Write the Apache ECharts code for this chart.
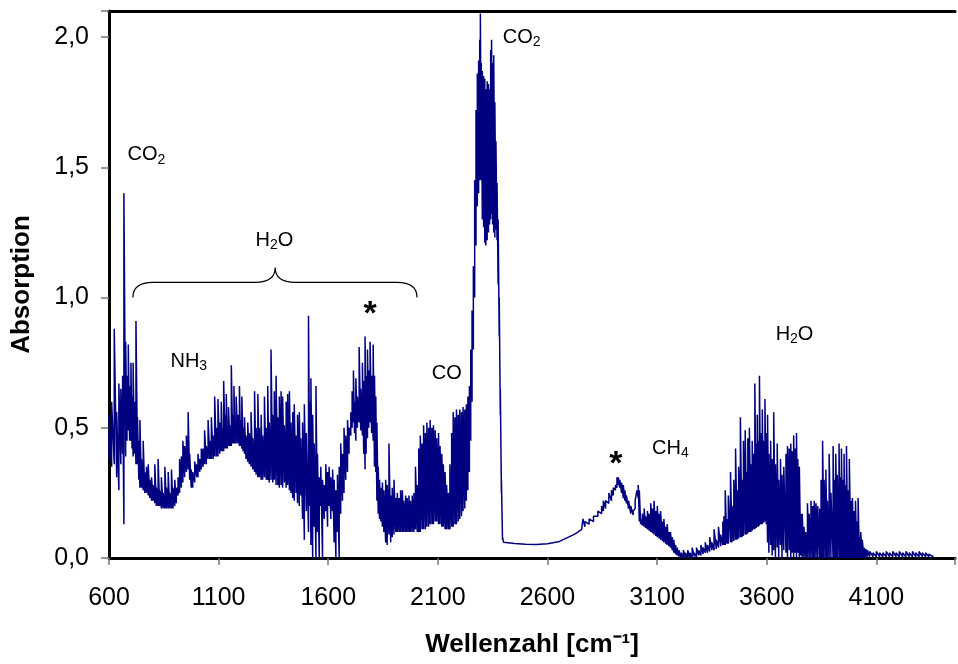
<!DOCTYPE html>
<html>
<head>
<meta charset="utf-8">
<script src="https://cdn.jsdelivr.net/npm/echarts@6/dist/echarts.min.js"></script>
<style>
html, body { margin: 0; background: #fff; }
#main { width: 958px; height: 664px; }
</style>
</head>
<body>
<div id="main"></div>
<script>
// each row: [wavenumber, lower edge, upper edge] of the dense spectrum at that wavenumber
var region600 = [
    [600,0.38,0.55],[612,0.35,0.60],[624,0.36,0.88],[635,0.31,0.56],[645,0.26,0.67],[654,0.36,0.65],
    [662,0.40,0.70],[668,0.13,1.40],[676,0.39,0.83],[682,0.45,0.70],[688,0.49,0.82],[694,0.45,0.66],
    [700,0.45,0.75],[705,0.42,0.62],[710,0.39,0.75],[716,0.40,0.60],[723,0.36,0.91],[730,0.36,0.54],
    [736,0.30,0.45],[741,0.27,0.53],[748,0.27,0.38],[756,0.26,0.45],[763,0.25,0.33],[771,0.25,0.35],
    [779,0.24,0.36],[786,0.23,0.30],[794,0.22,0.31],[801,0.22,0.28],[809,0.21,0.36],[816,0.20,0.27],
    [824,0.20,0.38],[831,0.20,0.26],[839,0.19,0.31],[847,0.19,0.25],[855,0.19,0.35],[862,0.19,0.27],
    [870,0.19,0.33],[877,0.19,0.25],[885,0.19,0.34],[892,0.19,0.27],[900,0.20,0.30],[907,0.21,0.27],
    [915,0.24,0.31],[922,0.25,0.38],[930,0.27,0.39],[937,0.29,0.45],[945,0.31,0.43],[953,0.33,0.47],
    [961,0.34,0.56],[968,0.30,0.40],[975,0.27,0.34],[982,0.27,0.33],[991,0.29,0.37],[1000,0.31,0.36],
    [1006,0.31,0.40],[1014,0.33,0.38],[1021,0.34,0.42],[1029,0.35,0.42],[1036,0.36,0.49],[1044,0.36,0.43],
    [1052,0.38,0.53],[1060,0.38,0.45],[1067,0.38,0.54],[1075,0.38,0.47],[1082,0.39,0.62],[1090,0.39,0.50],
    [1097,0.39,0.61],[1105,0.40,0.52],[1112,0.41,0.60],[1118,0.41,0.50],[1123,0.41,0.68],[1130,0.42,0.55],
    [1135,0.42,0.63],[1140,0.42,0.50],[1145,0.43,0.58],[1152,0.43,0.51],[1158,0.43,0.74],[1164,0.44,0.55],
    [1170,0.44,0.66],[1175,0.44,0.52],[1180,0.44,0.62],[1188,0.44,0.55],[1195,0.43,0.66],[1200,0.43,0.53],
    [1206,0.42,0.62],[1212,0.41,0.50],[1218,0.40,0.54],[1225,0.38,0.47],[1233,0.37,0.52],[1240,0.36,0.48],
    [1248,0.35,0.56],[1256,0.34,0.46],[1264,0.33,0.64],[1271,0.32,0.50],[1279,0.31,0.63],[1286,0.31,0.50],
    [1294,0.30,0.55],[1301,0.30,0.47]
]

var region1300 = [
    [1309,0.31,0.62],[1317,0.30,0.50],[1324,0.30,0.66],[1331,0.29,0.52],[1339,0.30,0.80],[1347,0.29,0.55],
    [1354,0.30,0.64],[1362,0.28,0.70],[1370,0.28,0.54],[1377,0.27,0.62],[1385,0.28,0.64],[1392,0.27,0.62],
    [1400,0.29,0.51],[1408,0.27,0.60],[1415,0.28,0.63],[1423,0.26,0.64],[1430,0.25,0.52],[1438,0.23,0.56],
    [1445,0.22,0.59],[1453,0.25,0.47],[1460,0.21,0.55],[1468,0.20,0.56],[1475,0.24,0.46],[1483,0.15,0.52],
    [1491,0.07,0.59],[1500,0.18,0.48],[1510,0.10,0.93],[1516,0.20,0.60],[1521,0.05,0.69],[1529,0.00,0.55],
    [1536,0.12,0.44],[1544,0.00,0.66],[1551,0.10,0.40],[1559,0.00,0.31],[1566,0.20,0.35],[1574,0.00,0.30],
    [1582,0.15,0.28],[1589,0.18,0.36],[1597,0.12,0.33],[1604,0.20,0.35],[1612,0.15,0.31],[1620,0.18,0.34],
    [1627,0.06,0.30],[1635,0.00,0.26],[1642,0.10,0.32],[1650,0.00,0.35],[1657,0.17,0.44],[1665,0.22,0.40],
    [1672,0.25,0.50],[1680,0.30,0.47],[1688,0.33,0.53],[1695,0.40,0.50],[1703,0.47,0.56],[1709,0.50,0.64],
    [1715,0.52,0.72],[1720,0.48,0.60],[1726,0.45,0.69],[1733,0.50,0.62],[1741,0.52,0.81],[1748,0.49,0.65],
    [1756,0.47,0.75],[1762,0.40,0.68],[1768,0.34,0.85],[1773,0.40,0.70],[1779,0.46,0.80],[1785,0.50,0.72],
    [1791,0.52,0.83],[1798,0.48,0.70],[1805,0.45,0.82],[1811,0.35,0.70],[1817,0.33,0.62],[1822,0.22,0.52],
    [1828,0.17,0.35],[1834,0.15,0.30],[1840,0.14,0.27],[1847,0.12,0.29],[1854,0.10,0.26],[1862,0.06,0.30],
    [1869,0.05,0.28],[1877,0.09,0.44],[1885,0.06,0.24],[1892,0.08,0.27],[1900,0.09,0.30],[1908,0.10,0.23],
    [1915,0.10,0.25],[1923,0.10,0.23],[1930,0.10,0.26],[1938,0.10,0.26],[1945,0.10,0.22],[1953,0.10,0.24],
    [1960,0.10,0.23],[1968,0.10,0.24],[1975,0.10,0.22],[1983,0.10,0.24],[1991,0.10,0.25],[1998,0.11,0.35]
]

var region2000 = [
    [2006,0.10,0.28],[2013,0.10,0.42],[2020,0.10,0.47],[2028,0.11,0.44],[2035,0.11,0.51],[2043,0.11,0.48],
    [2050,0.12,0.52],[2058,0.12,0.50],[2065,0.13,0.53],[2073,0.13,0.50],[2080,0.13,0.51],[2088,0.14,0.49],
    [2095,0.14,0.46],[2103,0.13,0.48],[2110,0.13,0.43],[2118,0.12,0.40],[2125,0.12,0.36],[2133,0.11,0.33],
    [2140,0.11,0.28],[2148,0.11,0.25],[2155,0.11,0.36],[2163,0.12,0.48],[2170,0.12,0.56],[2178,0.13,0.54],
    [2185,0.13,0.57],[2193,0.14,0.55],[2200,0.15,0.57],[2208,0.16,0.56],[2215,0.18,0.58],[2223,0.19,0.57],
    [2230,0.22,0.59],[2237,0.26,0.62],[2244,0.33,0.66],[2250,0.45,0.80],[2256,0.60,0.95],[2262,0.80,1.12],
    [2268,1.00,1.45],[2274,1.20,1.72],[2280,1.35,1.86],[2286,1.40,1.91],[2291,1.45,1.99],[2294,1.50,2.09],
    [2298,1.45,1.90],[2303,1.30,1.87],[2309,1.27,1.85],[2314,1.21,1.84],[2319,1.20,1.80],[2325,1.22,1.83],
    [2331,1.25,1.82],[2336,1.28,1.80],[2341,1.30,1.95],[2345,1.32,1.99],[2350,1.28,1.90],[2355,1.25,1.93],
    [2360,1.23,1.75],[2365,1.26,1.60],[2370,1.22,1.44],[2375,1.05,1.30],[2380,0.85,1.00],[2385,0.55,0.65],
    [2390,0.25,0.30],[2395,0.07,0.08]
]

var region2400 = [
    [2400,0.060,0.060],[2450,0.056,0.056],[2500,0.053,0.053],[2550,0.052,0.052],[2600,0.055,0.055],
    [2650,0.062,0.062],[2696,0.080,0.080],[2720,0.090,0.095],[2740,0.100,0.105],[2756,0.110,0.115],
    [2762,0.110,0.150],[2771,0.120,0.140],[2790,0.130,0.150],[2810,0.140,0.160],[2830,0.160,0.180],
    [2847,0.170,0.200],[2855,0.180,0.220],[2865,0.190,0.220],[2880,0.210,0.250],[2892,0.220,0.260],
    [2900,0.240,0.270],[2910,0.260,0.280],[2917,0.270,0.310],[2923,0.280,0.310],[2930,0.270,0.300],
    [2938,0.250,0.290],[2946,0.230,0.280],[2953,0.220,0.260],[2960,0.210,0.240],[2970,0.190,0.220],
    [2980,0.170,0.200],[2991,0.165,0.180],[3000,0.190,0.220],[3008,0.220,0.260],[3014,0.230,0.280],
    [3019,0.140,0.260],[3025,0.130,0.150],[3033,0.125,0.170],[3041,0.120,0.190],[3048,0.115,0.160],
    [3056,0.110,0.180],[3064,0.105,0.170],[3071,0.100,0.210],[3079,0.095,0.190],[3086,0.090,0.220],
    [3094,0.085,0.180],[3101,0.080,0.200],[3109,0.075,0.170],[3116,0.070,0.180],[3124,0.065,0.140],
    [3131,0.060,0.150],[3139,0.055,0.120],[3146,0.050,0.130],[3154,0.045,0.100],[3161,0.040,0.100],
    [3169,0.030,0.080],[3176,0.020,0.070],[3184,0.015,0.050],[3191,0.010,0.040],[3200,0.005,0.030],
    [3210,0.000,0.020],[3220,0.000,0.030],[3230,0.000,0.020],[3240,0.000,0.030],[3250,0.000,0.020],
    [3260,0.000,0.040],[3270,0.005,0.020],[3280,0.005,0.040],[3290,0.010,0.030],[3300,0.010,0.050],
    [3310,0.015,0.040],[3320,0.020,0.060],[3330,0.020,0.050],[3340,0.025,0.080],[3350,0.030,0.060],
    [3360,0.030,0.110],[3370,0.035,0.070],[3380,0.040,0.120],[3390,0.045,0.090],[3400,0.050,0.140]
]

var region3400 = [
    [3405,0.05,0.16],[3411,0.05,0.26],[3418,0.055,0.15],[3425,0.055,0.24],[3435,0.06,0.33],[3442,0.06,0.20],
    [3450,0.065,0.30],[3458,0.07,0.42],[3465,0.07,0.26],[3472,0.075,0.35],[3480,0.08,0.54],[3487,0.08,0.30],
    [3494,0.085,0.45],[3502,0.09,0.49],[3509,0.09,0.33],[3514,0.095,0.46],[3521,0.10,0.50],[3528,0.10,0.36],
    [3534,0.105,0.45],[3540,0.11,0.40],[3546,0.11,0.67],[3552,0.115,0.44],[3557,0.12,0.55],[3562,0.12,0.45],
    [3567,0.125,0.70],[3573,0.13,0.48],[3580,0.13,0.57],[3586,0.135,0.45],[3592,0.14,0.61],[3598,0.13,0.48],
    [3604,0.06,0.55],[3610,0.02,0.40],[3618,0.05,0.45],[3625,0.01,0.38],[3632,0.03,0.56],[3640,0.00,0.36],
    [3648,0.04,0.44],[3655,0.00,0.30],[3663,0.05,0.38],[3670,0.00,0.32],[3678,0.03,0.35],[3688,0.02,0.40],
    [3695,0.00,0.43],[3703,0.03,0.42],[3710,0.00,0.44],[3717,0.02,0.41],[3723,0.00,0.47],[3730,0.02,0.42],
    [3736,0.00,0.48],[3742,0.02,0.38],[3749,0.00,0.35],[3755,0.01,0.17],[3762,0.00,0.17],[3770,0.00,0.12],
    [3778,0.00,0.10],[3786,0.00,0.21],[3794,0.00,0.17],[3802,0.00,0.22],[3810,0.00,0.20],[3817,0.00,0.22],
    [3825,0.00,0.21],[3833,0.00,0.20],[3842,0.00,0.19],[3848,0.00,0.30],[3855,0.00,0.45],[3862,0.00,0.30],
    [3870,0.00,0.34],[3877,0.00,0.22],[3885,0.00,0.40],[3893,0.00,0.25],[3903,0.00,0.43],[3909,0.00,0.30],
    [3915,0.00,0.40],[3922,0.00,0.32],[3930,0.00,0.44],[3936,0.00,0.31],[3941,0.00,0.42],[3947,0.00,0.30],
    [3953,0.00,0.40],[3958,0.00,0.28],[3964,0.00,0.43],[3970,0.00,0.26],[3977,0.00,0.38],[3984,0.00,0.22],
    [3991,0.00,0.23],[3998,0.00,0.18],[4005,0.00,0.22],[4011,0.00,0.14],[4017,0.00,0.23],[4023,0.00,0.08],
    [4029,0.00,0.10],[4036,0.00,0.07],[4044,0.00,0.04],[4052,0.00,0.035],[4060,0.005,0.03],[4070,0.005,0.025],
    [4085,0.005,0.02],[4100,0.005,0.025],[4115,0.005,0.02],[4130,0.005,0.02],[4145,0.005,0.025],[4160,0.005,0.02],
    [4175,0.005,0.025],[4190,0.005,0.02],[4205,0.005,0.025],[4220,0.005,0.02],[4235,0.005,0.025],[4250,0.005,0.02],
    [4265,0.005,0.025],[4280,0.005,0.02],[4295,0.005,0.025],[4310,0.005,0.02],[4325,0.005,0.02],[4340,0.005,0.015],
    [4358,0.005,0.01]
]

// band labels: [wavenumber, absorption, text]
var bandLabels = [
    [771, 1.548, '{m|CO}{s|2}'],
    [1355, 1.219, '{m|H}{s|2}{m|O}'],
    [964, 0.754, '{m|NH}{s|3}'],
    [1791, 0.935, '{b|*}'],
    [2141, 0.71, '{m|CO}'],
    [2482, 2.0, '{m|CO}{s|2}'],
    [2912, 0.36, '{b|*}'],
    [3161, 0.421, '{m|CH}{s|4}'],
    [3727, 0.858, '{m|H}{s|2}{m|O}']
]

// curly brace over the water region: [from, to, tip, end level, bar level, tip level]
var brace = [[709, 2005, 1358, 1.0, 1.058, 1.115]]

var xTicks = [600, 1100, 1600, 2100, 2600, 3100, 3600, 4100]

var spectrum = []
var rows = region600.concat(region1300, region2000, region2400, region3400)
for (var i = 0; i < rows.length; i++) {
    spectrum.push([rows[i][0], rows[i][1]])
    spectrum.push([rows[i][0], rows[i][2]])
}

var font = 'Liberation Sans, Arial, sans-serif'

var element = document.querySelector('#main')
var myChart = echarts.init(element)

var option = {
    animation: false,
    backgroundColor: '#fff',
    grid: {
        left: 109,
        right: 0,
        top: 11,
        bottom: 106
    },
    xAxis: [{
        type: 'value',
        min: 600,
        max: 4459,
        interval: 500,
        name: 'Wellenzahl [cm⁻¹]',
        nameLocation: 'middle',
        nameGap: 74,
        nameTextStyle: {fontFamily: font, fontSize: 26, fontWeight: 'bold', color: '#000'},
        axisLine: {lineStyle: {color: '#000', width: 3}},
        axisTick: {length: 7, lineStyle: {color: '#777', width: 1.5}},
        axisLabel: {
            margin: 28,
            fontFamily: font,
            fontSize: 25,
            color: '#000',
            formatter: function(v) {
                return xTicks.indexOf(v) >= 0 ? String(v) : ''
            }
        },
        splitLine: {show: false}
    }, {
        type: 'value',
        position: 'top',
        min: 600,
        max: 4459,
        axisLine: {lineStyle: {color: '#000', width: 3}},
        axisTick: {show: false},
        axisLabel: {show: false},
        splitLine: {show: false}
    }],
    yAxis: {
        type: 'value',
        min: 0,
        max: 2.1,
        interval: 0.5,
        name: 'Absorption',
        nameLocation: 'middle',
        nameGap: 74,
        nameTextStyle: {fontFamily: font, fontSize: 26, fontWeight: 'bold', color: '#000'},
        axisLine: {show: true, lineStyle: {color: '#000', width: 3}},
        axisTick: {show: true, length: 8, lineStyle: {color: '#777', width: 1.5}},
        axisLabel: {
            margin: 20,
            fontFamily: font,
            fontSize: 25,
            color: '#000',
            formatter: function(v) {
                var k = Math.round(v * 10)
                if (k % 5 !== 0) {
                    return ''
                }
                return v.toFixed(1).replace('.', ',')
            }
        },
        splitLine: {show: false}
    },
    series: [
        {
            type: 'line',
            data: spectrum,
            showSymbol: false,
            symbol: 'none',
            sampling: null,
            lineStyle: {color: '#000080', width: 1.5},
            z: 3
        },
        {
            type: 'custom',
            data: brace,
            encode: {x: [0, 1, 2], y: [3, 4, 5]},
            renderItem: function(params, api) {
                var l = api.coord([api.value(0), api.value(3)])
                var r = api.coord([api.value(1), api.value(3)])
                var t = api.coord([api.value(2), api.value(5)])
                var m = api.coord([api.value(2), api.value(4)])[1]
                var rad = 20
                var d = 'M' + l[0] + ' ' + l[1] +
                    ' Q' + l[0] + ' ' + m + ' ' + (l[0] + rad) + ' ' + m +
                    ' L' + (t[0] - rad) + ' ' + m +
                    ' Q' + t[0] + ' ' + m + ' ' + t[0] + ' ' + t[1] +
                    ' Q' + t[0] + ' ' + m + ' ' + (t[0] + rad) + ' ' + m +
                    ' L' + (r[0] - rad) + ' ' + m +
                    ' Q' + r[0] + ' ' + m + ' ' + r[0] + ' ' + r[1]
                return {
                    type: 'path',
                    shape: {pathData: d},
                    style: {fill: null, stroke: '#000', lineWidth: 1.2}
                }
            },
            z: 4
        },
        {
            type: 'scatter',
            data: bandLabels,
            symbolSize: 1,
            itemStyle: {color: 'rgba(0,0,0,0)', opacity: 1},
            emphasis: {disabled: true},
            label: {
                show: true,
                position: 'inside',
                color: '#000',
                formatter: function(p) {
                    return p.data[2]
                },
                rich: {
                    m: {fontFamily: font, fontSize: 20, color: '#000'},
                    s: {fontFamily: font, fontSize: 14, color: '#000', padding: [10, 0, 0, 0]},
                    b: {fontFamily: font, fontSize: 34, fontWeight: 'bold', color: '#000'}
                }
            },
            z: 5
        }
    ]
}

myChart.setOption(option)
</script>
</body>
</html>
